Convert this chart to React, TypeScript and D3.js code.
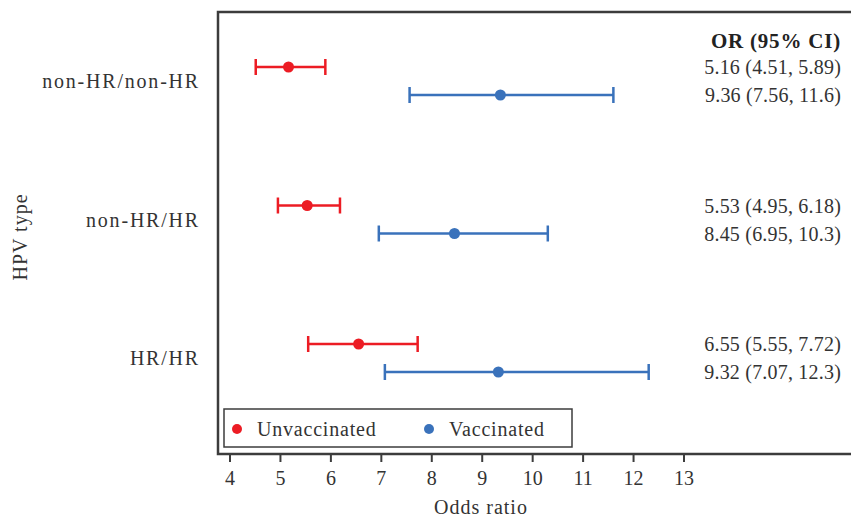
import { useEffect, useRef } from "react"
import * as d3 from "d3"

const categories = ["non-HR/non-HR", "non-HR/HR", "HR/HR"]
const unvacOR = [5.16, 5.53, 6.55]
const unvacLow = [4.51, 4.95, 5.55]
const unvacHigh = [5.89, 6.18, 7.72]
const vacOR = [9.36, 8.45, 9.32]
const vacLow = [7.56, 6.95, 7.07]
const vacHigh = [11.6, 10.3, 12.3]
const xTicks = [4, 5, 6, 7, 8, 9, 10, 11, 12, 13]

const RED = "#ec1c24"
const BLUE = "#3a72bb"
const FONT = "'Liberation Serif', 'Times New Roman', serif"

const App = () => {
  const svgRef = useRef<SVGSVGElement>(null)

  useEffect(() => {
    const width = 851
    const height = 517
    const margin = { top: 12, right: 0, bottom: 63, left: 218 }

    const svg = d3.select(svgRef.current)
    svg.selectAll("*").remove()
    svg.attr("width", width).attr("height", height)

    const x = d3.scaleLinear().domain([4, 13]).range([230, 684])
    const y = d3.scalePoint<string>().domain(categories).range([81, 358])
    const off = 14

    const series = [
      { name: "Unvaccinated", color: RED, or: unvacOR, lo: unvacLow, hi: unvacHigh, dy: -off },
      { name: "Vaccinated", color: BLUE, or: vacOR, lo: vacLow, hi: vacHigh, dy: off },
    ]

    // frame: left, top, bottom lines
    const bottom = height - margin.bottom
    svg.append("path")
      .attr("d", `M${width},${margin.top}H${margin.left}V${bottom}H${width}`)
      .attr("fill", "none")
      .attr("stroke", "#3c3c3c")
      .attr("stroke-width", 2.5)

    // x axis ticks
    const axis = svg.append("g")
    axis.selectAll("line")
      .data(xTicks)
      .enter()
      .append("line")
      .attr("x1", (d) => x(d))
      .attr("x2", (d) => x(d))
      .attr("y1", bottom)
      .attr("y2", bottom + 8)
      .attr("stroke", "#3c3c3c")
      .attr("stroke-width", 2)
    axis.selectAll("text")
      .data(xTicks)
      .enter()
      .append("text")
      .attr("x", (d) => x(d))
      .attr("y", bottom + 31)
      .attr("text-anchor", "middle")
      .style("font-family", FONT)
      .style("font-size", "20px")
      .attr("fill", "#333")
      .text((d) => d)

    svg.append("text")
      .attr("x", 481)
      .attr("y", 514)
      .attr("text-anchor", "middle")
      .style("font-family", FONT)
      .style("font-size", "20px")
      .style("letter-spacing", "1px")
      .attr("fill", "#333")
      .text("Odds ratio")

    svg.append("text")
      .attr("transform", `translate(27,237) rotate(-90)`)
      .attr("text-anchor", "middle")
      .style("font-family", FONT)
      .style("font-size", "20px")
      .style("letter-spacing", "1px")
      .attr("fill", "#333")
      .text("HPV type")

    // category labels
    svg.selectAll(".cat")
      .data(categories)
      .enter()
      .append("text")
      .attr("class", "cat")
      .attr("x", 200)
      .attr("y", (d) => (y(d) as number) + 7)
      .attr("text-anchor", "end")
      .style("font-family", FONT)
      .style("font-size", "20px")
      .style("letter-spacing", "1.8px")
      .attr("fill", "#333")
      .text((d) => d)

    // error bars and points
    series.forEach((s) => {
      const g = svg.append("g")
      categories.forEach((c, i) => {
        const cy = (y(c) as number) + s.dy
        g.append("line")
          .attr("x1", x(s.lo[i])).attr("x2", x(s.hi[i]))
          .attr("y1", cy).attr("y2", cy)
          .attr("stroke", s.color).attr("stroke-width", 2.5)
        ;[s.lo[i], s.hi[i]].forEach((v) => {
          g.append("line")
            .attr("x1", x(v)).attr("x2", x(v))
            .attr("y1", cy - 8).attr("y2", cy + 8)
            .attr("stroke", s.color).attr("stroke-width", 2.5)
        })
        g.append("circle")
          .attr("cx", x(s.or[i]))
          .attr("cy", cy)
          .attr("r", 5.5)
          .attr("fill", s.color)
        svg.append("text")
          .attr("x", 841)
          .attr("y", cy + 7)
          .attr("text-anchor", "end")
          .style("font-family", FONT)
          .style("font-size", "20px")
          .style("letter-spacing", "0.2px")
          .attr("fill", "#333")
          .text(`${s.or[i].toFixed(2)} (${s.lo[i].toFixed(2)}, ${s.hi[i] >= 10 ? s.hi[i].toFixed(1) : s.hi[i].toFixed(2)})`)
      })
    })

    svg.append("text")
      .attr("x", 841)
      .attr("y", 48)
      .attr("text-anchor", "end")
      .style("font-family", FONT)
      .style("font-size", "21px")
      .style("font-weight", "bold")
      .style("letter-spacing", "0.8px")
      .attr("fill", "#222")
      .text("OR (95% CI)")

    // legend
    const leg = svg.append("g")
    leg.append("rect")
      .attr("x", 224).attr("y", 409)
      .attr("width", 348).attr("height", 38)
      .attr("fill", "white")
      .attr("stroke", "#3c3c3c")
      .attr("stroke-width", 1.5)
    const legX = [237, 429]
    series.forEach((s, i) => {
      leg.append("circle")
        .attr("cx", legX[i]).attr("cy", 429)
        .attr("r", 5)
        .attr("fill", s.color)
      leg.append("text")
        .attr("x", legX[i] + 20)
        .attr("y", 436)
        .style("font-family", FONT)
        .style("font-size", "20px")
        .style("letter-spacing", "0.8px")
        .attr("fill", "#333")
        .text(s.name)
    })
  }, [])

  return (
    <div style={{ position: "absolute", left: 0, top: 0 }}>
      <svg ref={svgRef}></svg>
    </div>
  )
}

export default App
